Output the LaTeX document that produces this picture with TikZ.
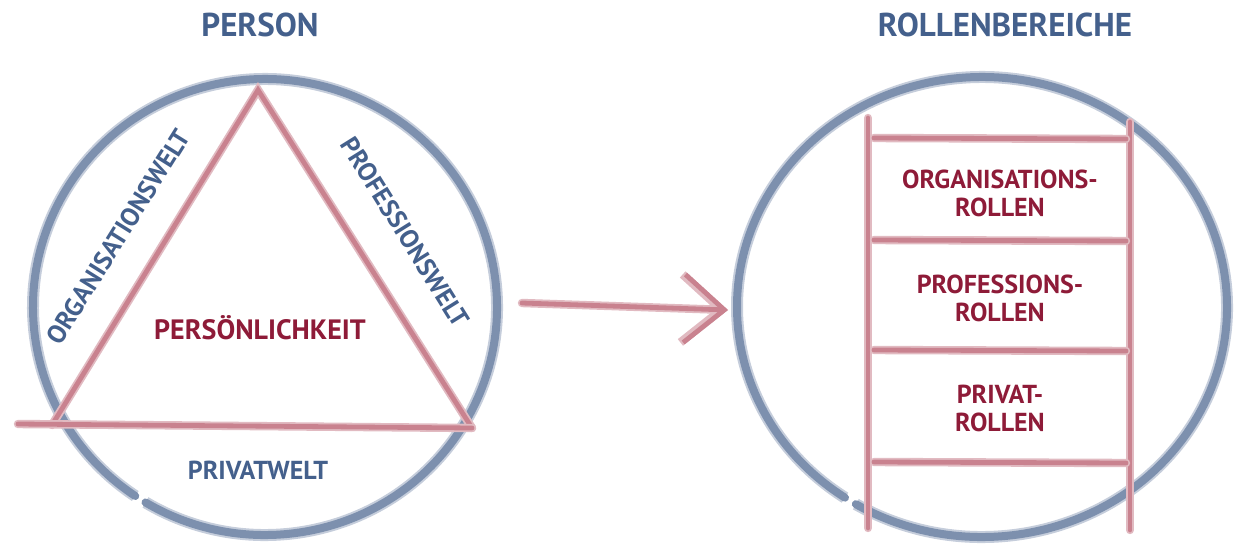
\documentclass[tikz,border=0pt]{standalone}
\usepackage{fontspec}
\setmainfont{PT Sans}
\usepackage{xcolor}
\usetikzlibrary{arrows.meta}
\definecolor{inkblue}{HTML}{44608C}
\definecolor{ringblue}{HTML}{7D90AE}
\definecolor{inkred}{HTML}{8E1B38}
\definecolor{brushred}{HTML}{C9828F}
\tikzset{
  ring/.style={draw=ringblue, line width=4pt, line cap=round,
    preaction={draw=ringblue!45, line width=6pt}},
  brush/.style={draw=brushred, line width=2.4pt, line cap=round,
    preaction={draw=brushred!55, line width=4.2pt, line cap=round}},
  headline/.style={inkblue, font=\fontsize{16.5}{16}\selectfont\bfseries},
  bluelabel/.style={inkblue, font=\fontsize{13}{13}\selectfont\bfseries},
  redlabel/.style={inkred, font=\fontsize{13}{14}\selectfont\bfseries, align=center},
}
\begin{document}
\begin{tikzpicture}[x=0.5pt,y=0.5pt]
\useasboundingbox (0,0) rectangle (1243,543);
% left side: person
\node[headline] (person) at (260,518) {PERSON};
\coordinate (Lc) at (265,236);
\draw[ring] (Lc) ++(-121:232 and 228) arc (-121:236:232 and 228);
\coordinate (A) at (258,453); \coordinate (B) at (52,118); \coordinate (C) at (472,115);
\coordinate (Btail) at (18,119);
\draw[brush] (B) -- (A) -- (C);
\draw[brush] (Btail) -- (C);
\node[bluelabel, rotate=58] (orgwelt) at (118,306) {ORGANISATIONSWELT};
\node[bluelabel, rotate=-58] (profwelt) at (405,311) {PROFESSIONSWELT};
\node[redlabel, font=\fontsize{14}{14}\selectfont\bfseries] (pers) at (260,215) {PERSÖNLICHKEIT};
\node[bluelabel] (privwelt) at (258,73) {PRIVATWELT};
% arrow
\coordinate (arrS) at (522,240); \coordinate (arrE) at (728,233);
\draw[brush, -{Straight Barb[length=20pt,width=34pt]}] (arrS) -- (arrE);
% right side: rollenbereiche
\node[headline] (rollen) at (1005,518) {ROLLENBEREICHE};
\coordinate (Rc) at (982,236);
\draw[ring] (Rc) ++(-121:245 and 230) arc (-121:236:245 and 230);
\coordinate (railLt) at (868,425); \coordinate (railLb) at (868,15);
\coordinate (railRt) at (1130,421); \coordinate (railRb) at (1130,13);
\draw[brush] (railLt) -- (railLb);
\draw[brush] (railRt) -- (railRb);
\foreach \y in {405,303,193,81}
  \draw[brush] (874,\y) -- (1126,\y-1);
\node[redlabel] (orgrollen) at (1000,350) {ORGANISATIONS-\\ROLLEN};
\node[redlabel] (profrollen) at (1000,245) {PROFESSIONS-\\ROLLEN};
\node[redlabel] (privrollen) at (1000,135) {PRIVAT-\\ROLLEN};
\end{tikzpicture}
\end{document}
